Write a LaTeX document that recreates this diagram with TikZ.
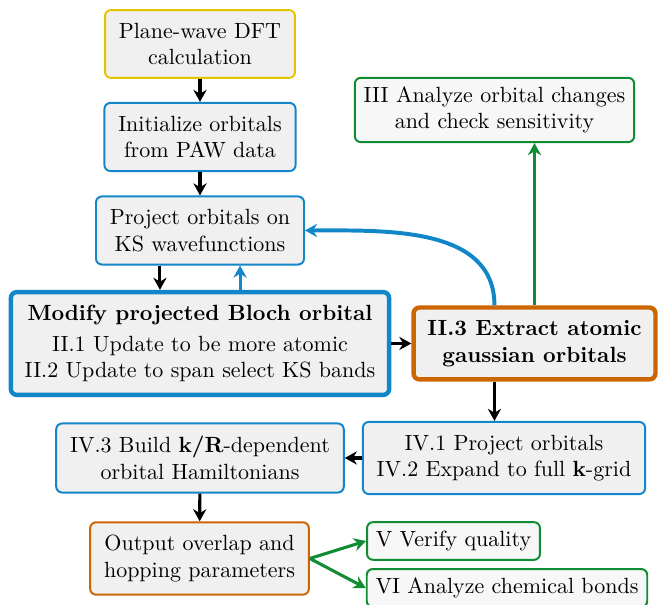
\documentclass[tikz,border=0pt]{standalone}
\usepackage{tikz}
\usetikzlibrary{arrows.meta}
\usepackage{amsmath}
\usepackage{xcolor}

\definecolor{dftyellow}{HTML}{E6C300}
\definecolor{stepblue}{HTML}{1187CA}
\definecolor{keyorange}{HTML}{CC6600}
\definecolor{checkgreen}{HTML}{118C33}

\begin{document}
\begin{tikzpicture}[x=0.4545pt, y=0.4545pt,
  box/.style={draw, rounded corners=2.7pt, fill=black!6, align=center,
    inner xsep=6.3pt, inner ysep=5.9pt, line width=0.9pt},
  bigbox/.style={box, line width=2pt},
  leaf/.style={box, draw=checkgreen, fill=black!3, inner sep=4pt},
  arr/.style={-{Stealth[length=5.5pt, width=6pt]}, line width=1.4pt}]

  \useasboundingbox (0,0) rectangle (660,605);

  % ---- Setup ----
  \node[box, draw=dftyellow] (dft) at (200,561) {Plane-wave DFT\\calculation};
  \node[box, draw=stepblue] (init) at (200,468) {Initialize orbitals\\from PAW data};
  \node[box, draw=stepblue] (proj) at (200,374.5) {Project orbitals on\\KS wavefunctions};

  % ---- Orbital refinement ----
  \node[bigbox, draw=stepblue] (modify) at (200,261.5)
    {\textbf{Modify projected Bloch orbital}\\[2pt]
     II.1 Update to be more atomic\\
     II.2 Update to span select KS bands};
  \node[bigbox, draw=keyorange, font=\bfseries] (extract) at (534.5,261.5)
    {II.3 Extract atomic\\gaussian orbitals};
  \node[leaf] (analyze) at (494.5,495)
    {III Analyze orbital changes\\and check sensitivity};

  % ---- Hamiltonians ----
  \node[box, draw=stepblue] (expand) at (504,147)
    {IV.1 Project orbitals\\IV.2 Expand to full $\mathbf{k}$-grid};
  \node[box, draw=stepblue] (build) at (200,147)
    {IV.3 Build \textbf{k/R}-dependent\\orbital Hamiltonians};
  \node[box, draw=keyorange] (output) at (199.5,46.5)
    {Output overlap and\\hopping parameters};
  \node[leaf] (verify) at (453.5,64) {V Verify quality};
  \node[leaf] (bonds) at (507,17) {VI Analyze chemical bonds};

  % Arrows
  \draw[arr] (dft) -- (init);
  \draw[arr] (init) -- (proj);
  \draw[arr] ([xshift=-18.2pt]proj.south) -- ([xshift=-18.2pt]proj.south |- modify.north);
  \draw[arr, stepblue] ([xshift=18.2pt]proj.south |- modify.north) -- ([xshift=18.2pt]proj.south);
  \draw[arr] (modify) -- (extract);
  \draw[arr, stepblue, line width=1.8pt] ([xshift=-18.2pt]extract.north) to[out=90, in=0] (proj.east);
  \draw[arr, checkgreen] (extract.north) -- (extract.north |- analyze.south);
  \draw[arr] ([xshift=-18.2pt]extract.south) -- ([xshift=-18.2pt]extract.south |- expand.north);
  \draw[arr] (expand) -- (build);
  \draw[arr] (build) -- (output);
  \draw[arr, checkgreen] (output.east) -- (verify.west);
  \draw[arr, checkgreen] (output.east) -- (bonds.west);

\end{tikzpicture}
\end{document}
